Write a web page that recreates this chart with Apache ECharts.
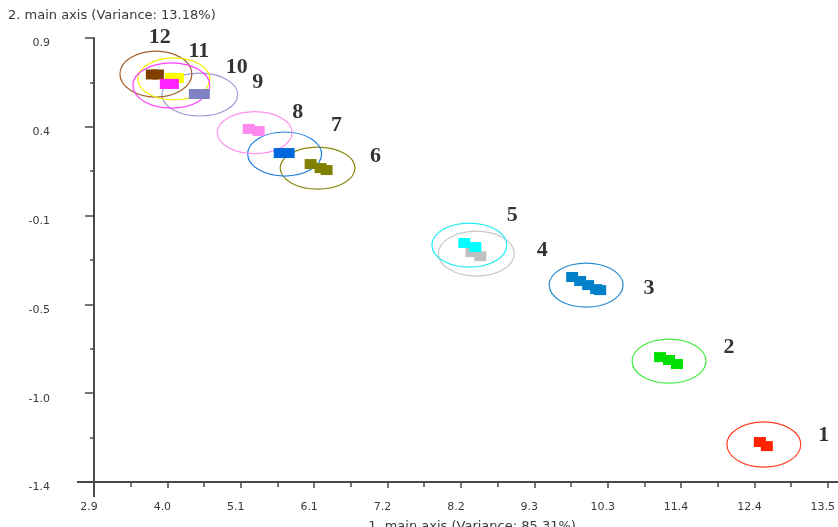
<!DOCTYPE html>
<html>
<head>
<meta charset="utf-8">
<script src="https://cdn.jsdelivr.net/npm/echarts@6/dist/echarts.min.js"></script>
<style>
html,body{margin:0;padding:0;background:#fff;}
#chart{width:838px;height:527px;}
</style>
</head>
<body>
<div id="chart"></div>
<script>
// ---- axes ----
const xMin = 2.945, xMax = 13.495;
const xTickLabels = ['2.9','4.0','5.1','6.1','7.2','8.2','9.3','10.3','11.4','12.4','13.5'];
const yMin = -1.44, yMax = 0.86;
const yTickLabels = ['-1.4','-1.0','-0.5','-0.1','0.4','0.9'];
const xTitle = '1. main axis (Variance: 85.31%)';
const yTitle = '2. main axis (Variance: 13.18%)';

// ---- groups ----
const groupNames = ['1','2','3','4','5','6','7','8','9','10','11','12'];
// observation points per group
const pointX = [
  [12.519, 12.619],
  [11.083, 11.213, 11.327],
  [9.820, 9.935, 10.050, 10.165, 10.222],
  [8.371, 8.500],
  [8.270, 8.428],
  [6.060, 6.203, 6.289],
  [5.615, 5.744],
  [5.170, 5.313],
  [4.395, 4.524],
  [3.978, 4.079],
  [4.050, 4.151],
  [3.777, 3.864]
];
const pointY = [
  [-1.233, -1.254],
  [-0.793, -0.808, -0.829],
  [-0.378, -0.399, -0.420, -0.441, -0.446],
  [-0.249, -0.270],
  [-0.202, -0.223],
  [0.207, 0.186, 0.176],
  [0.264, 0.264],
  [0.389, 0.378],
  [0.570, 0.570],
  [0.622, 0.622],
  [0.653, 0.653],
  [0.671, 0.671]
];
// confidence ellipses (centre and radii in data units)
const ellipseCX = [12.576, 11.213, 10.021, 8.442, 8.342, 6.160, 5.686, 5.256, 4.466, 4.057, 4.093, 3.835];
const ellipseCY = [-1.246, -0.814, -0.420, -0.257, -0.213, 0.186, 0.259, 0.370, 0.567, 0.614, 0.648, 0.673];
const ellipseRX = [0.531, 0.531, 0.531, 0.545, 0.538, 0.538, 0.531, 0.538, 0.545, 0.553, 0.517, 0.517];
const ellipseRY = [0.117, 0.114, 0.114, 0.117, 0.114, 0.109, 0.114, 0.109, 0.111, 0.117, 0.109, 0.119];
// group label anchors
const labelX = [13.437, 12.074, 10.925, 9.390, 8.959, 6.993, 6.433, 5.873, 5.299, 4.998, 4.452, 3.892];
const labelY = [-1.197, -0.741, -0.435, -0.238, -0.057, 0.249, 0.409, 0.477, 0.632, 0.710, 0.793, 0.865];

// ---- styles ----
const blobColors = ['#ff2200','#00e000','#0080c8','#c0c0c0','#00ffff','#808000','#0068dc','#ff88f0','#8080c4','#ff22ff','#ffff00','#804000'];
const ringColors = ['#ff4020','#40ee40','#2a8fd0','#c8c8c8','#20eaf2','#8a8a10','#2080e0','#ff90ee','#9c9cd8','#ff40ff','#f2f000','#a06030'];
// draw order (later = on top)
const drawOrder = [0,1,2,3,4,5,6,7,8,11,10,9];

const chart = echarts.init(document.getElementById('chart'), null, {renderer:'canvas'});

const xStep = (xMax - xMin) / (xTickLabels.length - 1);
const yStep = (yMax - yMin) / (yTickLabels.length - 1);
const xMajor = xTickLabels.map((_, i) => xMin + i * xStep);
const xMinor = xTickLabels.slice(1).map((_, i) => xMin + (i + 0.5) * xStep);
const yMajor = yTickLabels.map((_, i) => yMin + i * yStep);
const yMinor = yTickLabels.slice(1).map((_, i) => yMin + (i + 0.5) * yStep);

function nearestIdx(arr, v) {
  let best = 0, d = Infinity;
  arr.forEach((a, i) => { const dd = Math.abs(a - v); if (dd < d) { d = dd; best = i; } });
  return best;
}

const axisLineStyle = {color:'#4a4a4a', width:2};
const labelFont = {fontFamily:'DejaVu Sans, sans-serif', fontSize:11, color:'#3a3a3a'};
const titleFont = '13px "DejaVu Sans", sans-serif';

const ellipseData = drawOrder.map(i => [ellipseCX[i], ellipseCY[i], ellipseRX[i], ellipseRY[i], i]);
const blobData = [];
drawOrder.forEach(i => {
  pointX[i].forEach((x, k) => {
    blobData.push({value:[x, pointY[i][k]], itemStyle:{color: blobColors[i], opacity:1}});
  });
});
const labelData = groupNames.map((n, i) => ({value:[labelX[i], labelY[i]], name:n}));

chart.setOption({
  animation:false,
  grid:{left:94, right:9, top:38, bottom:45},
  xAxis:[{
    type:'value', min:xMin, max:xMax,
    splitLine:{show:false},
    axisLine:{show:true, onZero:false, lineStyle:axisLineStyle},
    axisTick:{show:true, length:6, customValues:xMajor, lineStyle:{color:'#4a4a4a', width:1.5}},
    axisLabel:{show:true, customValues:xMajor, margin:20, ...labelFont, padding:[0,10,0,0],
      formatter: v => xTickLabels[nearestIdx(xMajor, v)]}
  },{
    type:'value', min:xMin, max:xMax, position:'bottom',
    splitLine:{show:false},
    axisLine:{show:false, onZero:false},
    axisTick:{show:true, length:5, customValues:xMinor, lineStyle:{color:'#4a4a4a', width:1.5}},
    axisLabel:{show:false}
  }],
  yAxis:[{
    type:'value', min:yMin, max:yMax,
    splitLine:{show:false},
    axisLine:{show:true, onZero:false, lineStyle:axisLineStyle},
    axisTick:{show:true, length:9, customValues:yMajor, lineStyle:{color:'#4a4a4a', width:1.5}},
    axisLabel:{show:true, customValues:yMajor, margin:44, ...labelFont, verticalAlign:'top',
      formatter: v => yTickLabels[nearestIdx(yMajor, v)]}
  },{
    type:'value', min:yMin, max:yMax, position:'left',
    splitLine:{show:false},
    axisLine:{show:false, onZero:false},
    axisTick:{show:true, length:4, customValues:yMinor, lineStyle:{color:'#4a4a4a', width:1.5}},
    axisLabel:{show:false}
  }],
  series:[
    {
      type:'custom',
      coordinateSystem:'cartesian2d',
      clip:false,
      renderItem:(params, api) => {
        const c = api.coord([api.value(0), api.value(1)]);
        const s = api.size([api.value(2), api.value(3)]);
        const idx = api.value(4);
        return {
          type:'ellipse',
          shape:{cx:c[0], cy:c[1], rx:s[0], ry:s[1]},
          style:{fill:null, stroke:ringColors[idx], lineWidth:1.2}
        };
      },
      data:ellipseData,
      z:2
    },
    {
      type:'scatter',
      symbol:'rect',
      symbolSize:[12,10],
      clip:false,
      itemStyle:{opacity:1},
      data:blobData,
      z:3
    },
    {
      type:'scatter',
      symbolSize:0,
      clip:false,
      data:labelData,
      label:{show:true, position:'inside', formatter:'{b}',
        fontFamily:'Liberation Serif, Times New Roman, serif', fontWeight:'bold', fontSize:22, color:'#000'},
      z:4
    }
  ]
});

// axis line extensions (crosshair style) and axis titles
const o = chart.convertToPixel({gridIndex:0}, [xMin, yMin]);
const e = chart.convertToPixel({gridIndex:0}, [xMax, yMax]);
chart.setOption({
  graphic:[
    {type:'text', left:8, top:9, style:{text:yTitle, font:titleFont, fill:'#3a3a3a'}},
    {type:'text', x:472, y:520, style:{text:xTitle, font:titleFont, fill:'#3a3a3a', align:'center', verticalAlign:'top'}},
    {type:'line', shape:{x1:o[0]-17, y1:o[1], x2:o[0], y2:o[1]}, style:{stroke:'#4a4a4a', lineWidth:2}},
    {type:'line', shape:{x1:e[0], y1:o[1], x2:838, y2:o[1]}, style:{stroke:'#4a4a4a', lineWidth:2}},
    {type:'line', shape:{x1:o[0], y1:o[1], x2:o[0], y2:o[1]+15}, style:{stroke:'#4a4a4a', lineWidth:2}}
  ]
});
</script>
</body>
</html>
